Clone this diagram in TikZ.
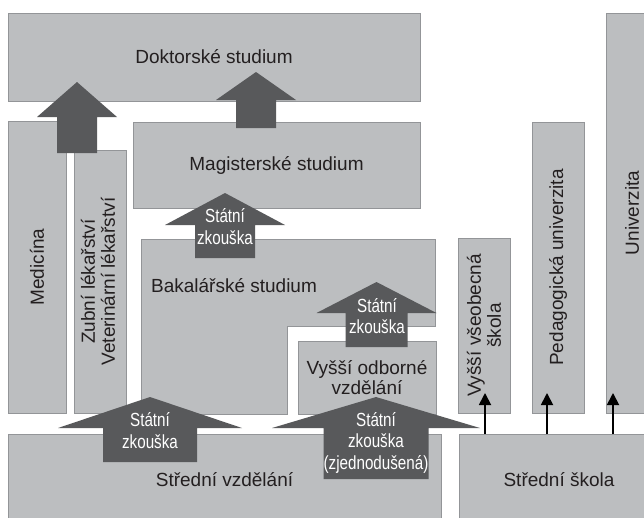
\documentclass[tikz,border=0pt]{standalone}
\usepackage{fontspec}
\setmainfont{Liberation Sans}
\newfontfamily\condfont[FakeStretch=0.8]{Liberation Sans}
\usetikzlibrary{arrows.meta}
\definecolor{boxfill}{HTML}{BCBEC0}
\definecolor{boxline}{HTML}{939598}
\definecolor{arrowfill}{HTML}{58595B}
\definecolor{txt}{HTML}{231F20}
\newcommand\blockarrow[6]{%
  \fill[arrowfill] (#1,#2) -- (#1+#4,#3) -- (#1+#5,#3) -- (#1+#5,#6)
    -- (#1-#5,#6) -- (#1-#5,#3) -- (#1-#4,#3) -- cycle;}
\begin{document}
\begin{tikzpicture}[x=1pt,y=-1pt,
  box/.style={draw=boxline, fill=boxfill, line width=0.9pt, inner sep=0pt, outer sep=0pt},
  lbl/.style={font=\fontsize{19}{20}\selectfont, align=center, text=txt, inner sep=0pt},
  albl/.style={font=\condfont\fontsize{19}{21.5}\selectfont, align=center, text=white, inner sep=0pt},
  smallarrow/.style={line width=1.8pt, draw=black, -{Triangle[length=12pt,width=12pt]}}]
\useasboundingbox (0,0) rectangle (644,517);
\clip (0,0) rectangle (644,517);
% boxes
\node[box, minimum width=412pt, minimum height=88pt] (doc) at (214,57) {};
\node[box, minimum width=58pt, minimum height=292pt] (med) at (37,267) {};
\node[box, minimum width=52pt, minimum height=263pt] (zub) at (100,281.5) {};
\node[box, minimum width=287pt, minimum height=86pt] (mag) at (276.5,165) {};
\draw[box] (141,239) -- (435,239) -- (435,326) -- (287,326) -- (287,414) -- (141,414) -- cycle;
\node[box, minimum width=138pt, minimum height=73pt] (vos) at (367,377.5) {};
\node[box, minimum width=433pt, minimum height=92pt] (sv) at (224.5,480) {};
\node[box, minimum width=200pt, minimum height=92pt] (ss) at (559,480) {};
\node[box, minimum width=52pt, minimum height=175pt] (vvs) at (484,325.5) {};
\node[box, minimum width=52pt, minimum height=291pt] (ped) at (558,267.5) {};
\node[box, minimum width=52pt, minimum height=400pt] (uni) at (632,213) {};
% labels
\node[lbl] (tdoc) at (doc) {Doktorské studium};
\node[lbl] (tmag) at (mag) {Magisterské studium};
\node[lbl] (tbak) at (234,286) {Bakalářské studium};
\node[lbl] (tvos) at (vos) {Vyšší odborné\\vzdělání};
\node[lbl] (tsv) at (sv) {Střední vzdělání};
\node[lbl] (tss) at (ss) {Střední škola};
\node[lbl, rotate=90] (tmed) at (med) {Medicína};
\node[lbl, rotate=90] (tzub) at (98,281.5) {Zubní lékařství\\Veterinární lékařství};
\node[lbl, rotate=90] (tvvs) at (vvs) {Vyšší všeobecná\\škola};
\node[lbl, rotate=90] (tped) at (ped) {Pedagogická univerzita};
\node[lbl, rotate=90] (tuni) at (uni) {Univerzita};
% block arrows
\blockarrow{77}{82}{117}{40}{20}{153}
\blockarrow{256}{72}{100}{40}{20}{128}
\blockarrow{225}{193}{225}{60}{30}{258}
\blockarrow{376.5}{282}{313}{60}{31}{347}
\blockarrow{150}{397}{428}{92}{47}{462}
\blockarrow{376}{397}{428}{104}{52.5}{479}
\node[albl] (a3) at (225,226.5) {Státní\\zkouška};
\node[albl] (a4) at (377,316) {Státní\\zkouška};
\node[albl] (a5) at (150,430.5) {Státní\\zkouška};
\node[albl] (a6) at (376,442.5) {Státní\\zkouška\\(zjednodušená)};
% small arrows
\coordinate (t1) at (485,393);
\coordinate (t2) at (547,393);
\coordinate (t3) at (613,393);
\draw[smallarrow] (ss.north -| t1) -- (t1);
\draw[smallarrow] (ss.north -| t2) -- (t2);
\draw[smallarrow] (ss.north -| t3) -- (t3);
\end{tikzpicture}
\end{document}
